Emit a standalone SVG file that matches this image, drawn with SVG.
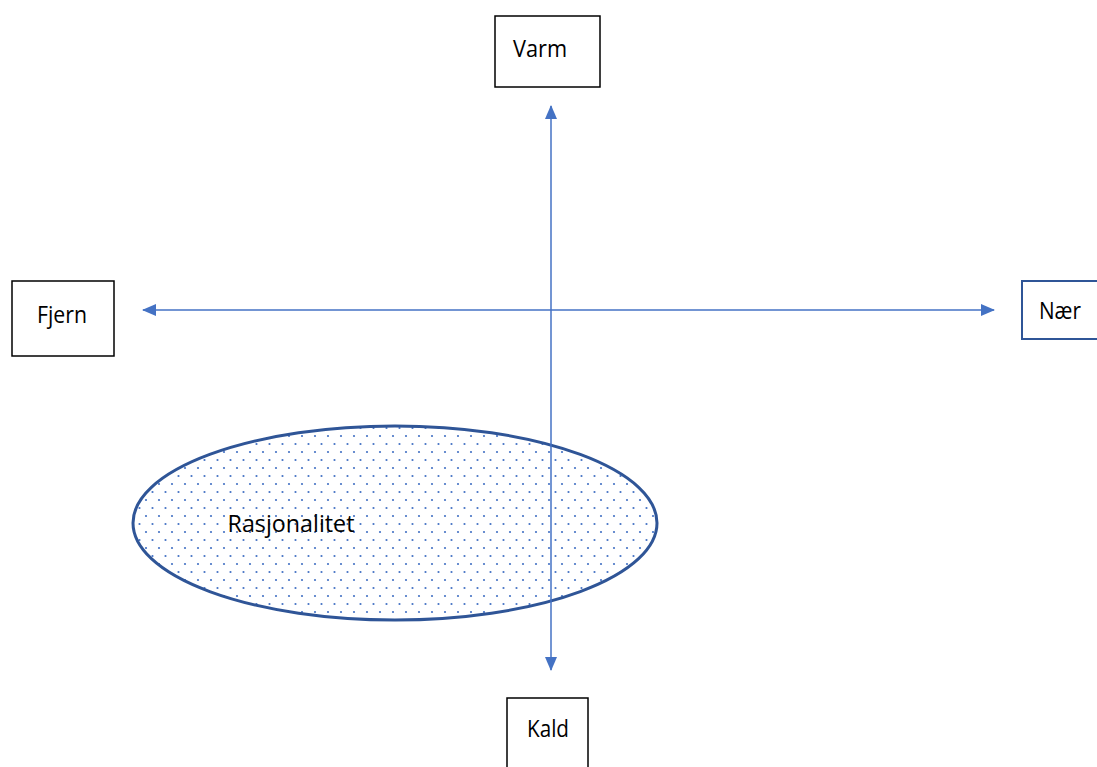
<svg xmlns="http://www.w3.org/2000/svg" width="1097" height="767" viewBox="0 0 1097 767">
<style>
.box{fill:#fff;stroke:#000;stroke-width:1.5}
.lbl{font-family:"Open Sans","Liberation Sans",sans-serif;font-size:24px;fill:#000;text-anchor:middle}
.axis{stroke:#4472C4;stroke-width:1.5;fill:none}
</style>
<defs>
<marker id="ah" viewBox="0 0 14 12" refX="13" refY="6" markerWidth="14" markerHeight="12" markerUnits="userSpaceOnUse" orient="auto-start-reverse">
<path d="M0,0 L14,6 L0,12 z" fill="#4472C4"/>
</marker>
<pattern id="dots" width="13" height="16" patternUnits="userSpaceOnUse">
<circle cx="3" cy="4" r="1.1" fill="#4472C4"/>
<circle cx="9.5" cy="12" r="1.1" fill="#4472C4"/>
</pattern>
</defs>
<rect width="1097" height="767" fill="#fff"/>
<g id="rasjonalitet">
<ellipse cx="395" cy="523" rx="262" ry="97" fill="url(#dots)" stroke="#2F5597" stroke-width="3"/>
<text class="lbl" x="291" y="532" textLength="127" lengthAdjust="spacingAndGlyphs">Rasjonalitet</text>
</g>
<g id="connectors">
<line class="axis" x1="551" y1="670" x2="551" y2="106" marker-start="url(#ah)" marker-end="url(#ah)"/>
<line class="axis" x1="143" y1="310" x2="994" y2="310" marker-start="url(#ah)" marker-end="url(#ah)"/>
</g>
<g id="varm">
<rect class="box" x="495" y="16" width="105" height="71"/>
<text class="lbl" x="540" y="57" textLength="54" lengthAdjust="spacingAndGlyphs">Varm</text>
</g>
<g id="fjern">
<rect class="box" x="12" y="281" width="102" height="75"/>
<text class="lbl" x="62" y="323" textLength="50" lengthAdjust="spacingAndGlyphs">Fjern</text>
</g>
<g id="naer">
<rect x="1022" y="281" width="80" height="58" fill="#fff" stroke="#2F5597" stroke-width="2"/>
<text class="lbl" x="1060" y="319" textLength="42" lengthAdjust="spacingAndGlyphs">Nær</text>
</g>
<g id="kald">
<rect class="box" x="507" y="698" width="81" height="75"/>
<text class="lbl" x="548" y="737" textLength="42" lengthAdjust="spacingAndGlyphs">Kald</text>
</g>
</svg>
